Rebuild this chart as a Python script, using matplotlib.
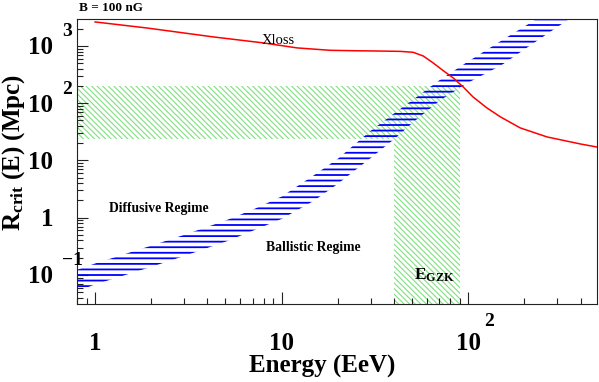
import numpy as np
import matplotlib
matplotlib.use('Agg')
import matplotlib.pyplot as plt
from matplotlib.ticker import LogLocator, NullFormatter
from matplotlib.transforms import offset_copy

plt.rcParams['font.family'] = ['Liberation Serif', 'DejaVu Serif']
plt.rcParams['mathtext.fontset'] = 'custom'
plt.rcParams['mathtext.rm'] = 'Liberation Serif:bold'
plt.rcParams['mathtext.bf'] = 'Liberation Serif:bold'
plt.rcParams['mathtext.it'] = 'Liberation Serif:bold'

# energy loss length (Xloss), Mpc vs EeV
energy_xloss = [1.0, 1.9, 4.3, 8.0, 12.1, 18.2, 25.0, 33.7, 43.2, 50.7, 57.4, 64.9,
                73.4, 83.1, 94.0, 106, 126, 149, 190, 265, 399, 492]
r_xloss = [2630, 2060, 1440, 1130, 925, 840, 825, 815, 805, 775, 668, 505,
           371, 276, 192, 129, 82.6, 57.5, 37.0, 25.7, 19.4, 17.1]

# critical distance band (upper / lower edge)
band_energy_up = [0.8, 1, 2, 3, 5, 7, 10, 15, 20, 30, 40, 50, 70, 100, 150, 200, 300]
band_r_up = [0.123, 0.158, 0.324, 0.50, 0.89, 1.38, 2.34, 5.6, 10.7, 33, 66, 112,
             251, 537, 1230, 2190, 4900]
band_energy_lo = [0.8, 1, 2, 3, 5, 7, 10, 15, 20, 30, 40, 50, 70, 100, 150, 200, 300, 400]
band_r_lo = [0.052, 0.068, 0.138, 0.214, 0.38, 0.59, 0.95, 2.0, 3.9, 11.0, 23.4, 44.7,
             110, 229, 457, 871, 2140, 3980]

# GZK energy range and distance range
gzk_energy = [40, 90]
gzk_r = [24, 200]

x_range = [0.8, 490]
y_range = [0.031, 2960]

xtick_vals = [1, 10, 100]
xtick_base = ['1', '10', '10']
xtick_exp = ['', '', '2']
ytick_vals = [0.1, 1, 10, 100, 1000]
ytick_base = ['10', '1', '10', '10', '10']
ytick_exp = ['\u22121', '', '', '2', '3']


def hatch_lw(patches, lw):
    for p in patches:
        if hasattr(p, 'set_hatch_linewidth'):
            p.set_hatch_linewidth(lw)


fig = plt.figure(figsize=(5.99, 3.82), dpi=100)
ax = fig.add_axes([77 / 599, 1 - 304 / 382, 520 / 599, 285 / 382])
ax.set_xscale('log')
ax.set_yscale('log')
ax.set_xlim(x_range)
ax.set_ylim(y_range)

# green L-shaped region
gx = [x_range[0], x_range[0], gzk_energy[1], gzk_energy[1], gzk_energy[0], gzk_energy[0]]
gy = [gzk_r[0], gzk_r[1], gzk_r[1], y_range[0], y_range[0], gzk_r[0]]
plt.rcParams['hatch.linewidth'] = 0.8
green = ax.fill(gx, gy, facecolor='none', edgecolor='#80e080', linewidth=0,
                hatch='\\\\\\\\\\\\', zorder=1)
hatch_lw(green, 0.8)

# blue band
bx = np.concatenate([band_energy_up, band_energy_lo[::-1]])
by = np.concatenate([band_r_up, band_r_lo[::-1]])
plt.rcParams['hatch.linewidth'] = 1.3
blue = ax.fill(bx, by, facecolor='none', edgecolor='#0000ff', linewidth=0,
               hatch='---', zorder=2)
hatch_lw(blue, 1.3)

ax.plot(energy_xloss, r_xloss, color='#ff0000', lw=1.1, zorder=3)

for sp in ax.spines.values():
    sp.set_linewidth(0.8)
    sp.set_color('#222222')

ax.xaxis.set_major_locator(LogLocator(base=10))
ax.xaxis.set_minor_locator(LogLocator(base=10, subs=np.arange(2, 10)))
ax.yaxis.set_major_locator(LogLocator(base=10))
ax.yaxis.set_minor_locator(LogLocator(base=10, subs=np.arange(2, 10), numticks=20))
ax.xaxis.set_major_formatter(NullFormatter())
ax.xaxis.set_minor_formatter(NullFormatter())
ax.yaxis.set_major_formatter(NullFormatter())
ax.yaxis.set_minor_formatter(NullFormatter())
ax.tick_params(axis='x', which='major', direction='in', length=9, width=0.8, color='#222222')
ax.tick_params(axis='x', which='minor', direction='in', length=4.5, width=0.8, color='#222222')
ax.tick_params(axis='y', which='major', direction='in', length=8, width=0.8, color='#222222')
ax.tick_params(axis='y', which='minor', direction='in', length=4, width=0.8, color='#222222')

# ROOT style tick labels: big base + detached exponent
xt = ax.get_xaxis_transform()
for v, b, e in zip(xtick_vals, xtick_base, xtick_exp):
    ax.text(v, 0, b, transform=offset_copy(xt, fig, x=0, y=-40, units='dots'),
            ha='center', va='center', fontsize=18, fontweight='bold')
    if e:
        ax.text(v, 0, e, transform=offset_copy(xt, fig, x=16, y=-18, units='dots'),
                ha='left', va='center', fontsize=14, fontweight='bold')

yt = ax.get_yaxis_transform()
for v, b, e in zip(ytick_vals, ytick_base, ytick_exp):
    ax.text(0, v, b, transform=offset_copy(yt, fig, x=-24, y=-2, units='dots'),
            ha='right', va='center', fontsize=18, fontweight='bold')
    if e:
        ax.text(0, v, e, transform=offset_copy(yt, fig, x=-15, y=14, units='dots'),
                ha='left', va='center', fontsize=14, fontweight='bold')

fig.text(322 / 599, 1 - 366 / 382, 'Energy (EeV)', ha='center', va='center',
         fontsize=18, fontweight='bold')
fig.text(14 / 599, 1 - 152 / 382, r'R$_{\mathbf{crit}}$ (E) (Mpc)', rotation=90,
         ha='center', va='center', fontsize=18, fontweight='bold')
fig.text(79 / 599, 1 - 8 / 382, 'B = 100 nG', ha='left', va='center',
         fontsize=9.5, fontweight='bold')

ax.text(7.86, 1084, 'Xloss', ha='left', va='baseline', fontsize=10.5)
ax.text(2.19, 1.42, 'Diffusive Regime', ha='center', va='center', fontsize=9.8,
        fontweight='bold')
ax.text(14.8, 0.30, 'Ballistic Regime', ha='center', va='center', fontsize=9.8,
        fontweight='bold')
ax.text(51.3, 0.082, r'E$_{\mathbf{GZK}}$', ha='left', va='baseline', fontsize=12.5,
        fontweight='bold')

fig.savefig('out.png', dpi=100)
